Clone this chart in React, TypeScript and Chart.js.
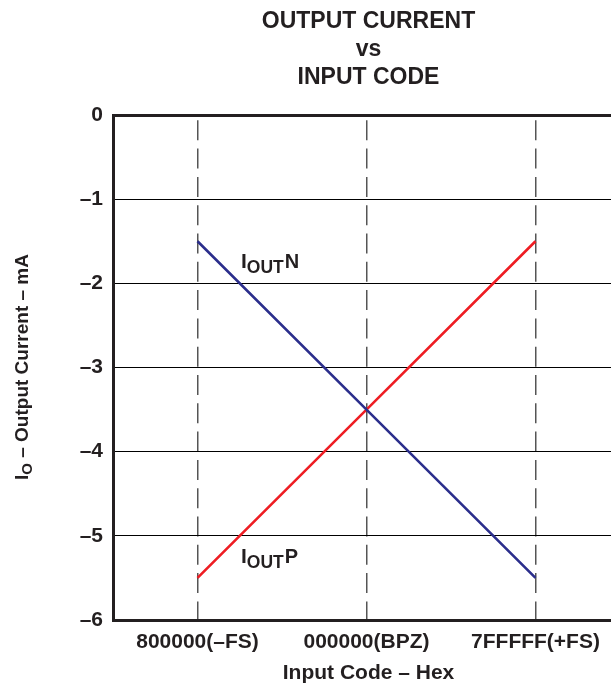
import React, { useEffect, useRef } from 'react';
import { Chart, registerables } from 'chart.js';

Chart.register(...registerables);

const codes = ['800000(–FS)', '000000(BPZ)', '7FFFFF(+FS)'];
const codeIndex = [0, 1, 2];
const ioutN = [-1.5, -3.5, -5.5];
const ioutP = [-5.5, -3.5, -1.5];
const titleLines = ['OUTPUT CURRENT', 'vs', 'INPUT CODE'];
const xTitle = 'Input Code – Hex';
const yTitleMain = 'I';
const yTitleSub = 'O';
const yTitleRest = ' – Output Current – mA';

const FONT = '"Liberation Sans", Arial, Helvetica, sans-serif';
const TEXT = '#231f20';

function drawSeriesLabel(ctx: CanvasRenderingContext2D, x: number, y: number, sup: string) {
  ctx.textAlign = 'left';
  ctx.textBaseline = 'alphabetic';
  ctx.font = `bold 21px ${FONT}`;
  ctx.fillText('I', x, y);
  let cx = x + ctx.measureText('I').width;
  ctx.font = `bold 17.5px ${FONT}`;
  ctx.fillText('OUT', cx, y + 5);
  cx += ctx.measureText('OUT').width + 1;
  ctx.font = `bold 20px ${FONT}`;
  ctx.fillText(sup, cx, y);
}

const annotations = {
  id: 'annotations',
  afterDraw(chart: any) {
    const ctx: CanvasRenderingContext2D = chart.ctx;
    const { left, right } = chart.chartArea;
    const cx = (left + right) / 2 + 2;
    ctx.save();
    ctx.fillStyle = TEXT;
    ctx.textAlign = 'center';
    ctx.textBaseline = 'alphabetic';
    ctx.font = `bold 23px ${FONT}`;
    const ty = [28, 56, 84];
    titleLines.forEach((t, i) => ctx.fillText(t, cx, ty[i]));

    ctx.textBaseline = 'middle';
    ctx.font = `bold 21px ${FONT}`;
    ctx.fillText(xTitle, cx, 673);

    // y title rotated
    ctx.save();
    ctx.translate(21, 367);
    ctx.rotate(-Math.PI / 2);
    ctx.font = `bold 19px ${FONT}`;
    const wMain = ctx.measureText(yTitleMain).width;
    const wRest = ctx.measureText(yTitleRest).width;
    ctx.font = `bold 15px ${FONT}`;
    const wSub = ctx.measureText(yTitleSub).width;
    const total = wMain + wSub + wRest;
    let x0 = -total / 2;
    ctx.textAlign = 'left';
    ctx.textBaseline = 'alphabetic';
    ctx.font = `bold 19px ${FONT}`;
    ctx.fillText(yTitleMain, x0, 7);
    x0 += wMain;
    ctx.font = `bold 15px ${FONT}`;
    ctx.fillText(yTitleSub, x0, 11);
    x0 += wSub;
    ctx.font = `bold 19px ${FONT}`;
    ctx.fillText(yTitleRest, x0, 7);
    ctx.restore();

    drawSeriesLabel(ctx, 241, 268, 'N');
    drawSeriesLabel(ctx, 241, 563, 'P');
    ctx.restore();
  },
};

export default function App() {
  const ref = useRef<HTMLCanvasElement | null>(null);

  useEffect(() => {
    if (!ref.current) return;
    const chart = new Chart(ref.current, {
      type: 'line',
      data: {
        datasets: [
          {
            label: 'IOUTN',
            data: codeIndex.map((x, i) => ({ x, y: ioutN[i] })),
            borderColor: '#2b2e8c',
            borderWidth: 2.6,
            pointRadius: 0,
            tension: 0,
          },
          {
            label: 'IOUTP',
            data: codeIndex.map((x, i) => ({ x, y: ioutP[i] })),
            borderColor: '#ee1d23',
            borderWidth: 2.6,
            pointRadius: 0,
            tension: 0,
          },
        ],
      },
      options: {
        responsive: false,
        animation: false,
        layout: { padding: { top: 115, right: 0, left: 0, bottom: 0 } },
        plugins: {
          legend: { display: false },
          title: { display: false },
          tooltip: { enabled: false },
        },
        scales: {
          x: {
            type: 'linear',
            min: -0.5,
            max: 2.5,
            afterBuildTicks(scale: any) {
              scale.ticks = codeIndex.map((v) => ({ value: v }));
            },
            afterFit(scale: any) {
              scale.height = 67;
            },
            ticks: {
              callback: (v: any) => codes[Math.round(Number(v))] ?? '',
              font: { family: FONT, size: 21, weight: 'bold' },
              color: TEXT,
              padding: 10,
              maxRotation: 0,
              autoSkip: false,
            },
            grid: {
              color: '#555555',
              lineWidth: 1.5,
              drawTicks: false,
            },
            border: { display: false, dash: [20, 8.3], dashOffset: 23 },
          },
          y: {
            type: 'linear',
            min: -6,
            max: 0,
            afterFit(scale: any) {
              scale.width = 113;
            },
            ticks: {
              stepSize: 1,
              callback: (v: any) => (Number(v) === 0 ? '0' : '–' + Math.abs(Number(v))),
              font: { family: FONT, size: 21, weight: 'bold' },
              color: TEXT,
              padding: 10,
            },
            grid: {
              color: (c: any) => (c.tick && (c.tick.value === 0 || c.tick.value === -6) ? '#231f20' : '#000000'),
              lineWidth: (c: any) => (c.tick && (c.tick.value === 0 || c.tick.value === -6) ? 3 : 1),
              drawTicks: false,
            },
            border: { display: true, color: '#231f20', width: 3 },
          },
        },
      },
      plugins: [annotations],
    });
    return () => chart.destroy();
  }, []);

  return (
    <div style={{ position: 'absolute', left: 0, top: 0, width: 611, height: 687, overflow: 'hidden', background: '#fff' }}>
      <canvas ref={ref} width={620} height={687} style={{ width: 620, height: 687, display: 'block' }} />
    </div>
  );
}
